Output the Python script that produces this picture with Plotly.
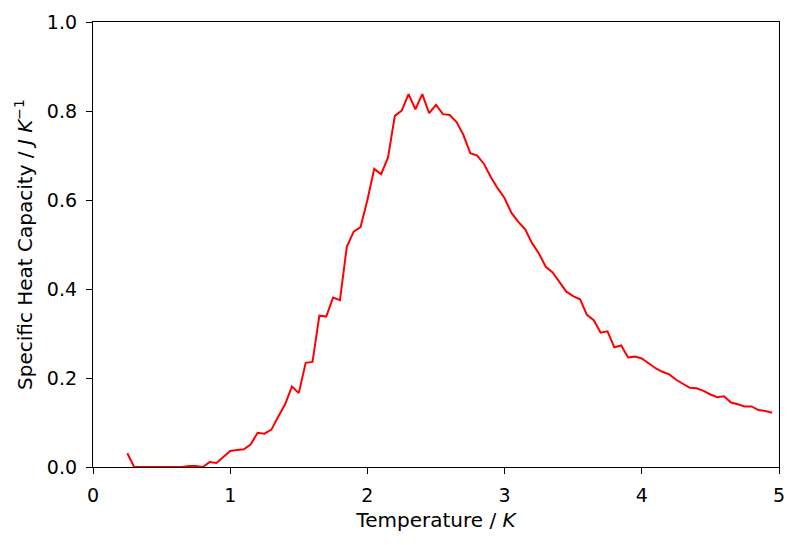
import plotly.graph_objects as go

temperature = [0.25, 0.30, 0.35, 0.40, 0.45, 0.50, 0.55, 0.60, 0.65, 0.70,
               0.75, 0.80, 0.85, 0.90, 0.95, 1.00, 1.05, 1.10, 1.15, 1.20,
               1.25, 1.30, 1.35, 1.40, 1.45, 1.50, 1.55, 1.60, 1.65, 1.70,
               1.75, 1.80, 1.85, 1.90, 1.95, 2.00, 2.05, 2.10, 2.15, 2.20,
               2.25, 2.30, 2.35, 2.40, 2.45, 2.50, 2.55, 2.60, 2.65, 2.70,
               2.75, 2.80, 2.85, 2.90, 2.95, 3.00, 3.05, 3.10, 3.15, 3.20,
               3.25, 3.30, 3.35, 3.40, 3.45, 3.50, 3.55, 3.60, 3.65, 3.70,
               3.75, 3.80, 3.85, 3.90, 3.95, 4.00, 4.05, 4.10, 4.15, 4.20,
               4.25, 4.30, 4.35, 4.40, 4.45, 4.50, 4.55, 4.60, 4.65, 4.70,
               4.75, 4.80, 4.85, 4.90, 4.95]
heat_capacity = [0.031, 0.0, 0.0, 0.0, 0.0, 0.0, 0.0, 0.0, 0.0, 0.002,
                 0.002, 0.0, 0.011, 0.009, 0.022, 0.036, 0.038, 0.040, 0.051, 0.077,
                 0.075, 0.084, 0.113, 0.141, 0.181, 0.166, 0.234, 0.236, 0.340, 0.338,
                 0.381, 0.375, 0.495, 0.529, 0.539, 0.600, 0.670, 0.658, 0.695, 0.789,
                 0.801, 0.838, 0.804, 0.838, 0.795, 0.814, 0.793, 0.791, 0.775, 0.746,
                 0.705, 0.700, 0.681, 0.651, 0.626, 0.604, 0.571, 0.551, 0.534, 0.503,
                 0.480, 0.450, 0.437, 0.414, 0.394, 0.384, 0.377, 0.342, 0.330, 0.302,
                 0.305, 0.269, 0.273, 0.246, 0.248, 0.244, 0.233, 0.222, 0.214, 0.208,
                 0.196, 0.186, 0.178, 0.177, 0.171, 0.163, 0.157, 0.159, 0.145, 0.141,
                 0.136, 0.136, 0.128, 0.126, 0.122]

x_ticks = [0, 1, 2, 3, 4, 5]
y_ticks = [0.0, 0.2, 0.4, 0.6, 0.8, 1.0]
y_tick_labels = ["0.0", "0.2", "0.4", "0.6", "0.8", "1.0"]

fig = go.Figure(go.Scatter(x=temperature, y=heat_capacity, mode="lines",
                           line=dict(color="red", width=2)))

tick_font = dict(family="DejaVu Sans", size=19, color="black")

axis_common = dict(showgrid=False, zeroline=False, showline=True, linecolor="black",
                   linewidth=1.3, mirror=True, ticks="outside", ticklen=6,
                   tickwidth=1.3, tickcolor="black", ticklabelstandoff=5,
                   tickfont=tick_font)

fig.update_layout(
    width=800, height=545,
    margin=dict(l=93, r=21, t=22, b=78),
    paper_bgcolor="white", plot_bgcolor="white",
    showlegend=False,
    font=dict(family="DejaVu Sans", size=17, color="black"),
    xaxis=dict(range=[0, 5], tickvals=x_ticks, ticktext=[str(t) for t in x_ticks],
               title=dict(text="Temperature / <i>K</i>", standoff=8),
               **axis_common),
    yaxis=dict(range=[0, 1], tickvals=y_ticks, ticktext=y_tick_labels,
               title=dict(text="Specific Heat Capacity / <i>J K</i><sup>−1</sup>", standoff=8),
               **axis_common),
)

fig.write_html("out.html")
